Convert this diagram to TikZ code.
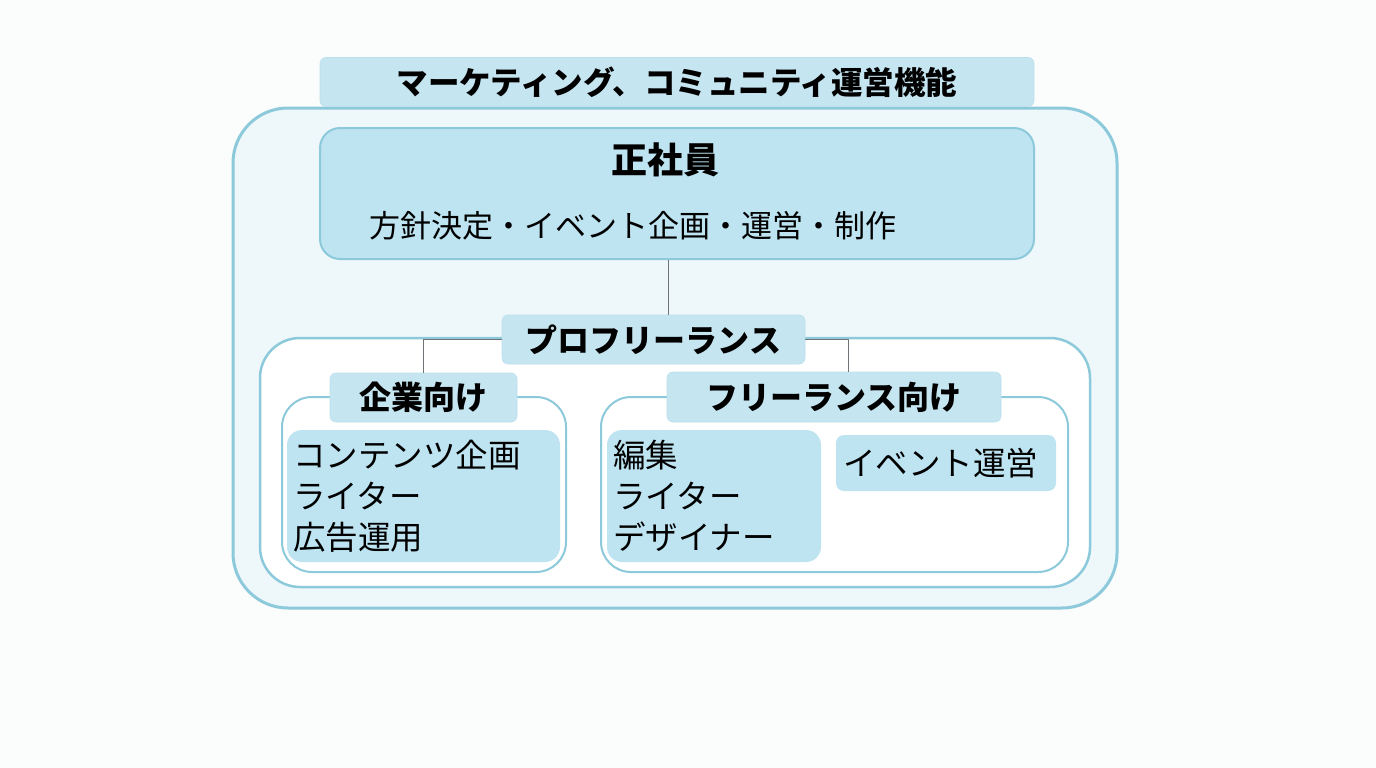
\documentclass[tikz,border=0pt]{standalone}
\usepackage{fontspec}
\setmainfont{Noto Sans CJK JP}
\usetikzlibrary{calc}

\definecolor{pagebg}{HTML}{FBFCFC}
\definecolor{frameblue}{HTML}{8CCADB}
\definecolor{paleblue}{HTML}{EEF7FA}
\definecolor{labelblue}{HTML}{C5E5F0}
\definecolor{itemblue}{HTML}{BEE4F2}
\definecolor{wire}{HTML}{6E7478}

\begin{document}
\begin{tikzpicture}[x=1pt, y=-1pt, line join=round,
  every node/.style={inner sep=0pt, text=black},
  frame/.style={draw=frameblue, line width=2.5pt, fill=white, rounded corners=#1},
  frame/.default=30pt,
  tag/.style={fill=labelblue, draw=labelblue!85!frameblue, line width=0.6pt, rounded corners=6pt,
    font=\fontsize{32}{36}\selectfont\bfseries},
  items/.style={fill=itemblue, rounded corners=15pt, align=left, inner xsep=6pt,
    font=\fontsize{32.5}{41}\selectfont},
  wire/.style={draw=wire, line width=1pt}]
  \useasboundingbox[fill=pagebg] (0,0) rectangle (1376,768);

  % outer function block
  \node[frame=55pt, line width=3pt, fill=paleblue, minimum width=884pt, minimum height=500pt]
    (mkt) at (675,358) {};
  \node[tag, font=\fontsize{31.5}{36}\selectfont\bfseries, minimum width=714pt, minimum height=49pt]
    (mkttag) at (677,82) {マーケティング、コミュニティ運営機能};

  % full-time staff
  \node[draw=frameblue, line width=2pt, fill=itemblue, rounded corners=20pt,
    minimum width=714pt, minimum height=131pt] (staff) at (677,193.5) {};
  \node[font=\fontsize{36}{40}\selectfont\bfseries] (stafftag) at (665,160) {正社員};
  \node[font=\fontsize{31}{36}\selectfont] (staffwork) at (633,226)
    {方針決定・イベント企画・運営・制作};

  % pro freelancers
  \node[frame=40pt, minimum width=830pt, minimum height=249pt] (pro) at (675,462.5) {};
  \node[frame, line width=2pt, minimum width=284pt, minimum height=175pt] (corp) at (424,484.5) {};
  \node[frame, line width=2pt, minimum width=467pt, minimum height=175pt] (fl) at (834.5,484.5) {};

  \node[items, text width=261pt, minimum height=132pt] (corpitems) at (423.5,496)
    {コンテンツ企画\\ライター\\広告運用};
  \node[items, text width=202pt, minimum height=132pt] (flitems) at (714,496)
    {編集\\ライター\\デザイナー};
  \node[items, rounded corners=8pt, inner xsep=7pt, text width=206pt, minimum height=56pt]
    (event) at (946,463) {イベント運営};

  \node[tag, minimum width=303pt, minimum height=49pt] (protag) at (653.5,339.5) {プロフリーランス};
  \node[tag, minimum width=187pt, minimum height=49pt] (corptag) at (423.5,397.5) {企業向け};
  \node[tag, minimum width=334pt, minimum height=50pt] (fltag) at (834,397) {フリーランス向け};

  % connectors
  \draw[wire] ([xshift=-9pt]staff.south) -- ([xshift=-9pt]staff.south |- protag.north);
  \draw[wire] (protag.west) -| (corptag.north);
  \draw[wire] (protag.east) -| ([xshift=14pt]fltag.north);
\end{tikzpicture}
\end{document}
